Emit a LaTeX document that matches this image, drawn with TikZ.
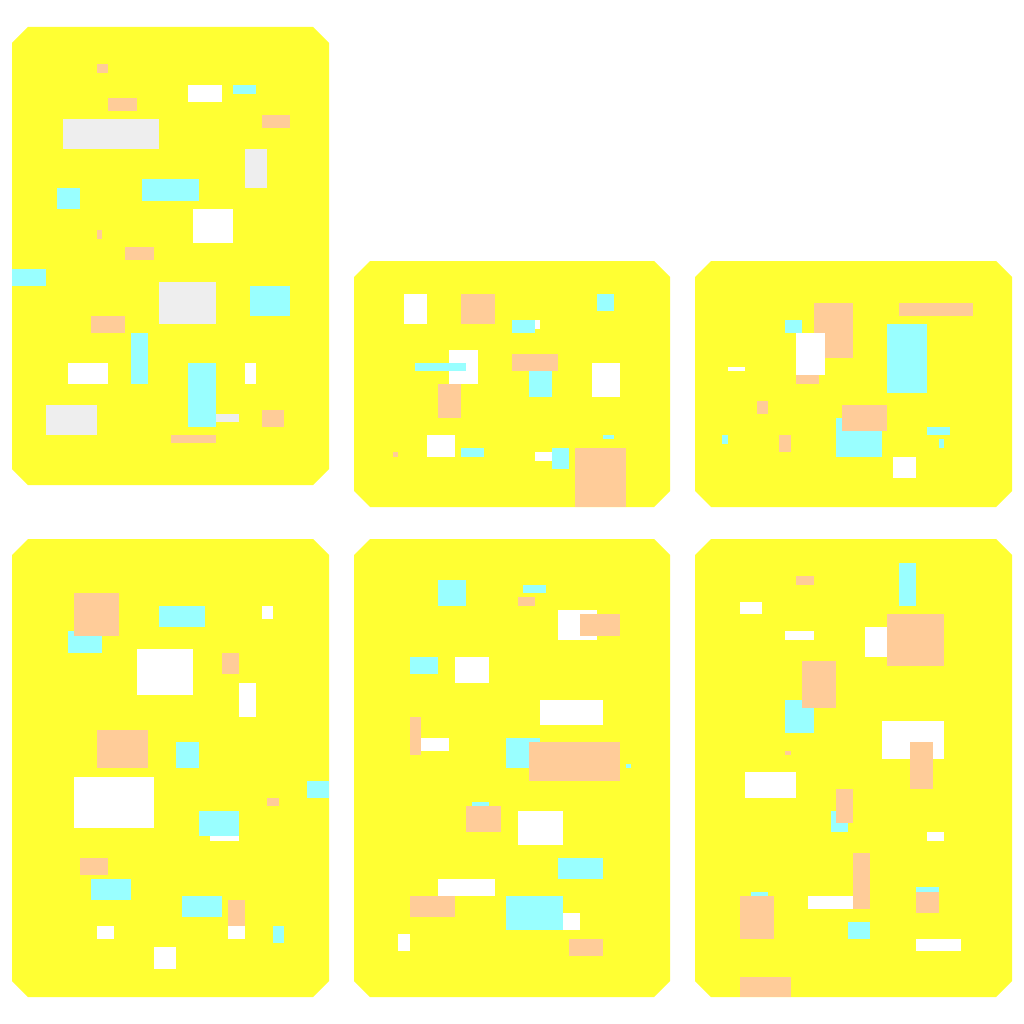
\documentclass[tikz,border=0pt]{standalone}
\usepackage{tikz}
\definecolor{boardyellow}{HTML}{FFFF33}
\definecolor{peachtone}{HTML}{FFCC99}
\definecolor{cyantone}{HTML}{99FFFF}
\definecolor{greytone}{HTML}{EEEEEE}

\begin{document}
\begin{tikzpicture}
        [x=1pt,y=-1pt,
         board/.style={fill=boardyellow},
         peach/.style={fill=peachtone},
         cyan/.style={fill=cyantone},
         blank/.style={fill=white},
         grey/.style={fill=greytone}]
        \useasboundingbox (0,0) rectangle (1024,1024);
        % six boards with cut corners
        \foreach \l/\t/\r/\b in {12/27/329/485, 354/261/670/507, 695/261/1012/507,
                                 12/539/329/997, 354/539/670/997, 695/539/1012/997}
          \fill[board] (\l+16,\t) -- (\r-16,\t) -- (\r,\t+16) -- (\r,\b-16)
            -- (\r-16,\b) -- (\l+16,\b) -- (\l,\b-16) -- (\l,\t+16) -- cycle;
        % board 1
        \fill[peach] (97,64) rectangle (108,73);
        \fill[blank] (188,85) rectangle (222,102);
        \fill[cyan] (233,85) rectangle (256,94);
        \fill[peach] (108,98) rectangle (137,111);
        \fill[peach] (262,115) rectangle (290,128);
        \fill[grey] (63,119) rectangle (159,149);
        \fill[grey] (245,149) rectangle (267,188);
        \fill[cyan] (142,179) rectangle (199,201);
        \fill[cyan] (57,188) rectangle (80,209);
        \fill[blank] (193,209) rectangle (233,243);
        \fill[peach] (97,230) rectangle (102,239);
        \fill[peach] (125,247) rectangle (154,260);
        \fill[cyan] (12,269) rectangle (46,286);
        \fill[grey] (159,282) rectangle (216,324);
        \fill[cyan] (250,286) rectangle (290,316);
        \fill[peach] (91,316) rectangle (125,333);
        \fill[cyan] (131,333) rectangle (148,384);
        \fill[blank] (68,363) rectangle (108,384);
        \fill[cyan] (188,363) rectangle (216,427);
        \fill[blank] (245,363) rectangle (256,384);
        \fill[grey] (46,405) rectangle (97,435);
        \fill[grey] (216,414) rectangle (239,422);
        \fill[peach] (262,410) rectangle (284,427);
        \fill[peach] (171,435) rectangle (216,443);
        % board 2
        \fill[blank] (404,294) rectangle (427,324);
        \fill[peach] (461,294) rectangle (495,324);
        \fill[cyan] (597,294) rectangle (614,311);
        \fill[cyan] (512,320) rectangle (535,333);
        \fill[blank] (535,320) rectangle (540,329);
        \fill[blank] (449,350) rectangle (478,384);
        \fill[cyan] (415,363) rectangle (466,371);
        \fill[peach] (512,354) rectangle (558,371);
        \fill[cyan] (529,371) rectangle (552,397);
        \fill[blank] (592,363) rectangle (620,397);
        \fill[peach] (438,384) rectangle (461,418);
        \fill[blank] (427,435) rectangle (455,457);
        \fill[peach] (393,452) rectangle (398,457);
        \fill[cyan] (461,448) rectangle (484,457);
        \fill[cyan] (603,435) rectangle (614,439);
        \fill[blank] (535,452) rectangle (552,461);
        \fill[cyan] (552,448) rectangle (569,469);
        \fill[peach] (575,448) rectangle (626,507);
        % board 3
        \fill[peach] (814,303) rectangle (853,358);
        \fill[peach] (899,303) rectangle (973,316);
        \fill[cyan] (785,320) rectangle (802,333);
        \fill[blank] (796,333) rectangle (825,375);
        \fill[peach] (796,375) rectangle (819,384);
        \fill[cyan] (887,324) rectangle (927,393);
        \fill[blank] (728,367) rectangle (745,371);
        \fill[peach] (757,401) rectangle (768,414);
        \fill[cyan] (836,418) rectangle (882,457);
        \fill[peach] (842,405) rectangle (887,431);
        \fill[cyan] (927,427) rectangle (950,435);
        \fill[cyan] (939,439) rectangle (944,448);
        \fill[cyan] (722,435) rectangle (728,444);
        \fill[peach] (779,435) rectangle (791,452);
        \fill[blank] (893,457) rectangle (916,478);
        % board 4
        \fill[cyan] (68,631) rectangle (102,653);
        \fill[peach] (74,593) rectangle (119,636);
        \fill[cyan] (159,606) rectangle (205,627);
        \fill[blank] (262,606) rectangle (273,619);
        \fill[blank] (137,649) rectangle (193,695);
        \fill[peach] (222,653) rectangle (239,674);
        \fill[blank] (239,683) rectangle (256,717);
        \fill[peach] (97,730) rectangle (148,768);
        \fill[cyan] (176,742) rectangle (199,768);
        \fill[blank] (74,777) rectangle (154,828);
        \fill[cyan] (307,781) rectangle (329,798);
        \fill[peach] (267,798) rectangle (279,806);
        \fill[blank] (210,830) rectangle (239,841);
        \fill[cyan] (199,811) rectangle (239,836);
        \fill[peach] (80,858) rectangle (108,875);
        \fill[cyan] (91,879) rectangle (131,900);
        \fill[cyan] (182,896) rectangle (222,917);
        \fill[peach] (228,900) rectangle (245,926);
        \fill[blank] (228,926) rectangle (245,939);
        \fill[blank] (97,926) rectangle (114,939);
        \fill[cyan] (273,926) rectangle (284,943);
        \fill[blank] (154,947) rectangle (176,969);
        % board 5
        \fill[cyan] (438,580) rectangle (466,606);
        \fill[cyan] (523,585) rectangle (546,593);
        \fill[peach] (518,597) rectangle (535,606);
        \fill[blank] (558,610) rectangle (597,640);
        \fill[peach] (580,614) rectangle (620,636);
        \fill[cyan] (410,657) rectangle (438,674);
        \fill[blank] (455,657) rectangle (489,683);
        \fill[blank] (540,700) rectangle (603,725);
        \fill[peach] (410,717) rectangle (421,755);
        \fill[blank] (421,738) rectangle (449,751);
        \fill[cyan] (506,738) rectangle (540,768);
        \fill[peach] (529,742) rectangle (620,781);
        \fill[cyan] (626,764) rectangle (631,768);
        \fill[cyan] (472,802) rectangle (489,810);
        \fill[peach] (466,806) rectangle (501,832);
        \fill[blank] (518,811) rectangle (563,845);
        \fill[cyan] (558,858) rectangle (603,879);
        \fill[blank] (438,879) rectangle (495,896);
        \fill[peach] (410,896) rectangle (455,917);
        \fill[cyan] (506,896) rectangle (563,930);
        \fill[blank] (563,913) rectangle (580,930);
        \fill[blank] (398,934) rectangle (410,951);
        \fill[peach] (569,939) rectangle (603,956);
        % board 6
        \fill[cyan] (899,563) rectangle (916,606);
        \fill[peach] (796,576) rectangle (814,585);
        \fill[blank] (740,602) rectangle (762,614);
        \fill[blank] (785,631) rectangle (814,640);
        \fill[blank] (865,627) rectangle (887,657);
        \fill[peach] (887,614) rectangle (944,666);
        \fill[cyan] (785,700) rectangle (814,733);
        \fill[peach] (802,661) rectangle (836,708);
        \fill[peach] (785,751) rectangle (791,755);
        \fill[blank] (882,721) rectangle (944,759);
        \fill[peach] (910,742) rectangle (933,789);
        \fill[blank] (745,772) rectangle (796,798);
        \fill[cyan] (831,811) rectangle (848,832);
        \fill[peach] (836,789) rectangle (853,823);
        \fill[blank] (927,832) rectangle (944,841);
        \fill[blank] (808,896) rectangle (853,909);
        \fill[peach] (853,853) rectangle (870,909);
        \fill[cyan] (751,892) rectangle (768,900);
        \fill[peach] (740,896) rectangle (774,939);
        \fill[cyan] (916,887) rectangle (939,895);
        \fill[peach] (916,892) rectangle (939,913);
        \fill[cyan] (848,922) rectangle (870,939);
        \fill[blank] (916,939) rectangle (961,951);
        \fill[peach] (740,977) rectangle (791,997);
      \end{tikzpicture}
\end{document}
